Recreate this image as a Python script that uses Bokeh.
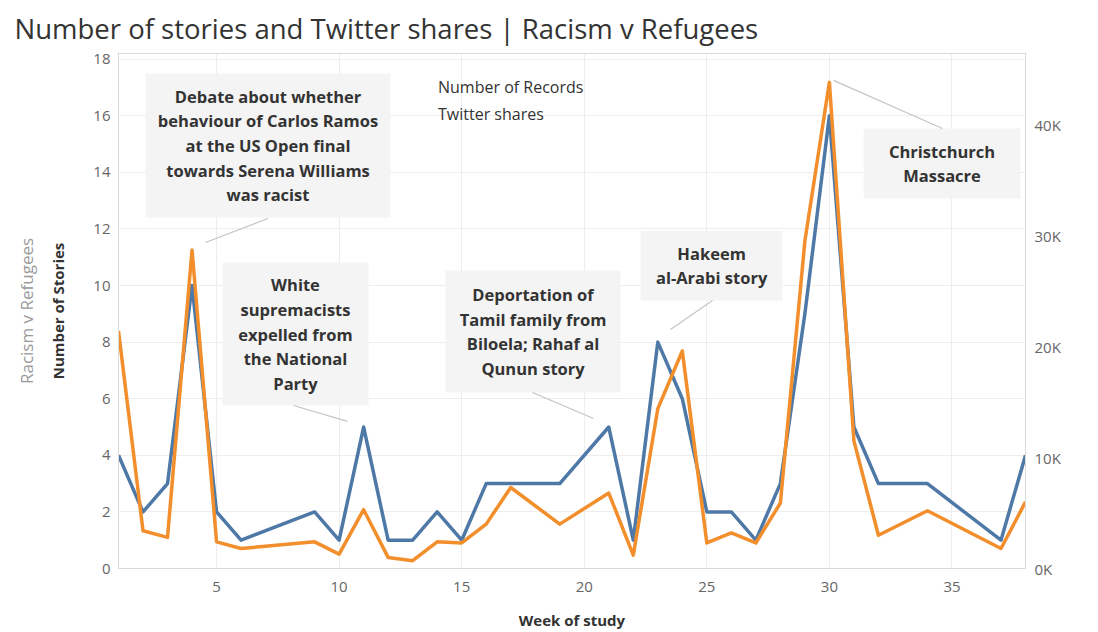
from math import pi

from bokeh.embed import file_html
from bokeh.models import (FixedTicker, Label, Legend, LegendItem, LinearAxis,
                          Range1d)
from bokeh.plotting import figure
from bokeh.resources import INLINE

# Weekly story counts and Twitter shares (weeks without coverage are absent)
weeks = [1, 2, 3, 4, 5, 6, 9, 10, 11, 12, 13, 14, 15, 16, 17, 19, 21, 22,
         23, 24, 25, 26, 27, 28, 29, 30, 31, 32, 34, 37, 38]
records = [4, 2, 3, 10, 2, 1, 2, 1, 5, 1, 1, 2, 1, 3, 3, 3, 5, 1,
           8, 6, 2, 2, 1, 3, 9, 16, 5, 3, 3, 1, 4]
shares = [21400, 3400, 2800, 28700, 2400, 1800, 2400, 1300, 5300, 1000, 700,
          2400, 2300, 4000, 7300, 4000, 6800, 1200, 14400, 19600, 2300, 3200,
          2300, 5900, 29500, 43800, 11500, 3000, 5200, 1800, 6000]

week_ticks = [5, 10, 15, 20, 25, 30, 35]
story_ticks = [0, 2, 4, 6, 8, 10, 12, 14, 16, 18]
share_ticks = [0, 10000, 20000, 30000, 40000]
share_tick_labels = ["0K", "10K", "20K", "30K", "40K"]

series_names = ["Number of Records", "Twitter shares"]
chart_title = "Number of stories and Twitter shares | Racism v Refugees"

callout_texts = [
    "Debate about whether\nbehaviour of Carlos Ramos\nat the US Open final\ntowards Serena Williams\nwas racist",
    "White\nsupremacists\nexpelled from\nthe National\nParty",
    "Deportation of\nTamil family from\nBiloela; Rahaf al\nQunun story",
    "Hakeem\nal-Arabi story",
    "Christchurch\nMassacre",
]

BLUE = "#4e79a7"
ORANGE = "#f28e2b"
FONT = "Open Sans"
TEXT = "#333333"
TICK = "#666666"

X0, X1 = 1, 38
Y0, Y1 = 0, 18.2
FRAME_L, FRAME_R, FRAME_T, FRAME_B = 118, 1025, 53, 568


def sx(px):
    """Canvas x pixel -> week units."""
    return X0 + (px - FRAME_L) * (X1 - X0) / (FRAME_R - FRAME_L)


def sy(py):
    """Canvas y pixel -> story units."""
    return Y0 + (FRAME_B - py) * (Y1 - Y0) / (FRAME_B - FRAME_T)


p = figure(width=1098, height=632, output_backend="svg", toolbar_location=None,
           x_range=Range1d(X0, X1), y_range=Range1d(Y0, Y1),
           min_border_left=FRAME_L, min_border_right=1098 - FRAME_R,
           min_border_top=FRAME_T, min_border_bottom=632 - FRAME_B,
           title=chart_title)
p.extra_y_ranges = {"shares": Range1d(0, 46400)}

p.title.text_font = FONT
p.title.text_font_size = "27.5px"
p.title.text_font_style = "normal"
p.title.text_color = TEXT
p.title.offset = -104
p.title.standoff = 14

p.outline_line_color = "#d9d9d9"
p.background_fill_color = "white"
p.border_fill_color = "white"

# grid
p.xgrid.ticker = FixedTicker(ticks=week_ticks)
p.ygrid.ticker = FixedTicker(ticks=story_ticks)
p.grid.grid_line_color = "#ededed"
p.grid.grid_line_width = 1


def style_axis(ax):
    ax.major_tick_in = 0
    ax.major_tick_out = 0
    ax.minor_tick_line_color = None
    ax.major_tick_line_color = None
    ax.axis_line_color = "#d9d9d9"
    ax.major_label_text_font = FONT
    ax.major_label_text_font_size = "15px"
    ax.major_label_text_color = TICK
    ax.axis_label_text_font = FONT
    ax.axis_label_text_font_size = "15px"
    ax.axis_label_text_color = TEXT


xax = p.below[0]
style_axis(xax)
xax.ticker = FixedTicker(ticks=week_ticks)
xax.axis_label = "Week of study"
xax.axis_label_text_font_style = "bold"
xax.major_label_standoff = 13
xax.axis_label_standoff = 15

yax = p.left[0]
style_axis(yax)
yax.ticker = FixedTicker(ticks=story_ticks)
yax.axis_label = "Number of Stories"
yax.axis_label_text_font_style = "bold"
yax.major_label_standoff = 8
yax.axis_label_standoff = 22

# sheet-level title on the outer left
outer = LinearAxis(ticker=FixedTicker(ticks=[]), axis_label="Racism v Refugees")
style_axis(outer)
outer.axis_line_color = None
outer.axis_label_text_color = "#9a9a9a"
outer.axis_label_text_font_style = "normal"
outer.axis_label_text_font_size = "17px"
outer.axis_label_standoff = 8
p.add_layout(outer, "left")

rax = LinearAxis(y_range_name="shares", ticker=FixedTicker(ticks=share_ticks),
                 major_label_overrides=dict(zip(share_ticks, share_tick_labels)))
style_axis(rax)
rax.major_label_standoff = 9
p.add_layout(rax, "right")

p.add_layout(Label(x=sx(1083), y=sy(306), text="Twitter shares", angle=pi / 2,
                   text_align="center", text_baseline="middle",
                   text_font=FONT, text_font_size="17px", text_color=TEXT))

# callout boxes (left, right, top, bottom) in week / story units
boxes = [
    (2.10, 12.10, 17.49, 12.40),
    (5.24, 11.20, 10.81, 5.76),
    (14.34, 21.48, 10.53, 6.22),
    (22.30, 28.09, 11.94, 9.47),
    (31.40, 37.79, 15.55, 13.08),
]
leaders = [
    ((7.10, 12.37), (4.55, 11.52)),
    ((8.14, 5.76), (10.34, 5.20)),
    ((17.89, 6.22), (20.38, 5.30)),
    ((25.23, 9.47), (23.52, 8.45)),
    ((34.61, 15.55), (30.17, 17.25)),
]

p.quad(left=[b[0] for b in boxes], right=[b[1] for b in boxes],
       top=[b[2] for b in boxes], bottom=[b[3] for b in boxes],
       fill_color="#f4f4f4", line_color=None)
p.segment(x0=[a[0] for a, b in leaders], y0=[a[1] for a, b in leaders],
          x1=[b[0] for a, b in leaders], y1=[b[1] for a, b in leaders],
          line_color="#c4c4c4", line_width=1.2)

# series
p.line(weeks, records, line_color=BLUE, line_width=3.5, line_join="round")
p.line(weeks, shares, y_range_name="shares", line_color=ORANGE,
       line_width=3.5, line_join="round")

for (l, r, t, b), txt in zip(boxes, callout_texts):
    p.add_layout(Label(x=(l + r) / 2, y=(t + b) / 2, text=txt,
                       text_align="center", text_baseline="middle",
                       text_font=FONT, text_font_size="16.5px",
                       text_font_style="bold", text_color=TEXT,
                       text_line_height=1.07))

# colour key with square swatches, in the open space at the top of the frame
sq_blue = p.quad(left=[], right=[], top=[], bottom=[], fill_color=BLUE,
                 line_color=None)
sq_orange = p.quad(left=[], right=[], top=[], bottom=[], fill_color=ORANGE,
                   line_color=None)
legend = Legend(items=[LegendItem(label=series_names[0], renderers=[sq_blue]),
                       LegendItem(label=series_names[1], renderers=[sq_orange])],
                location=(292, 443), orientation="vertical",
                glyph_width=22, glyph_height=21, label_height=21,
                spacing=5, padding=0, margin=0, label_standoff=6,
                label_text_font=FONT, label_text_font_size="16px",
                label_text_color=TEXT, background_fill_alpha=0,
                border_line_color=None)
p.add_layout(legend)

open("out.html", "w").write(file_html(p, INLINE))
